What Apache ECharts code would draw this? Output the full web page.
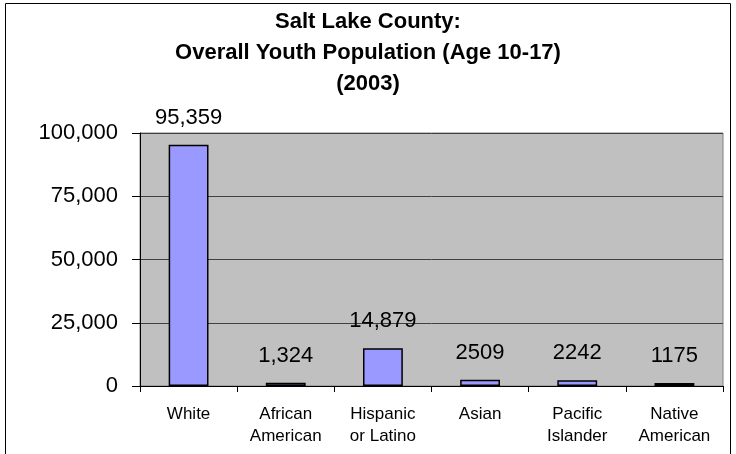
<!DOCTYPE html>
<html>
<head>
<meta charset="utf-8">
<script src="https://cdn.jsdelivr.net/npm/echarts@6/dist/echarts.min.js"></script>
<style>
html,body{margin:0;padding:0;background:#fff;}
#chart{width:736px;height:454px;}
</style>
</head>
<body>
<div id="chart"></div>
<script>
const categories = ['White', 'African\nAmerican', 'Hispanic\nor Latino', 'Asian', 'Pacific\nIslander', 'Native\nAmerican'];
const values = [95359, 1324, 14879, 2509, 2242, 1175];
const valueLabels = ['95,359', '1,324', '14,879', '2509', '2242', '1175'];
const yTicks = [0, 25000, 50000, 75000, 100000];

const chart = echarts.init(document.getElementById('chart'));
const font = '"Liberation Sans", Arial, sans-serif';
chart.setOption({
  animation: false,
  backgroundColor: '#ffffff',
  title: {
    text: 'Salt Lake County:\nOverall Youth Population (Age 10-17)\n(2003)',
    left: 'center',
    top: 1,
    textStyle: { fontFamily: font, fontSize: 22, fontWeight: 'bold', color: '#000', lineHeight: 31 }
  },
  graphic: [{
    type: 'rect',
    shape: { x: 5.5, y: 3.5, width: 725, height: 460 },
    style: { fill: 'none', stroke: '#000', lineWidth: 1 },
    silent: true
  }],
  grid: { left: 140, right: 13, top: 133, bottom: 68, show: true, backgroundColor: '#c0c0c0', borderColor: '#808080', borderWidth: 1 },
  xAxis: {
    type: 'category',
    data: categories,
    axisLine: { show: true, lineStyle: { color: '#000', width: 1 } },
    axisTick: { show: true, alignWithLabel: false, length: 6, lineStyle: { color: '#000' } },
    axisLabel: { fontFamily: font, fontSize: 17, color: '#000', lineHeight: 22, margin: 17, interval: 0 }
  },
  yAxis: {
    type: 'value',
    min: 0, max: 100000, interval: 25000,
    axisLine: { show: true, lineStyle: { color: '#000', width: 1 } },
    axisTick: { show: true, inside: false, length: 8, lineStyle: { color: '#000' } },
    splitLine: { show: true, lineStyle: { color: '#404040', width: 1 } },
    axisLabel: {
      fontFamily: font, fontSize: 22, color: '#000', margin: 22,
      formatter: v => yTicks.includes(v) ? v.toLocaleString('en-US') : ''
    }
  },
  series: [{
    type: 'bar',
    data: values,
    barWidth: '41%',
    itemStyle: { color: '#9999ff', borderColor: '#000', borderWidth: 1.5 },
    label: {
      show: true, position: 'top', distance: 16,
      fontFamily: font, fontSize: 22, color: '#000',
      formatter: p => valueLabels[p.dataIndex]
    }
  }]
});
</script>
</body>
</html>
